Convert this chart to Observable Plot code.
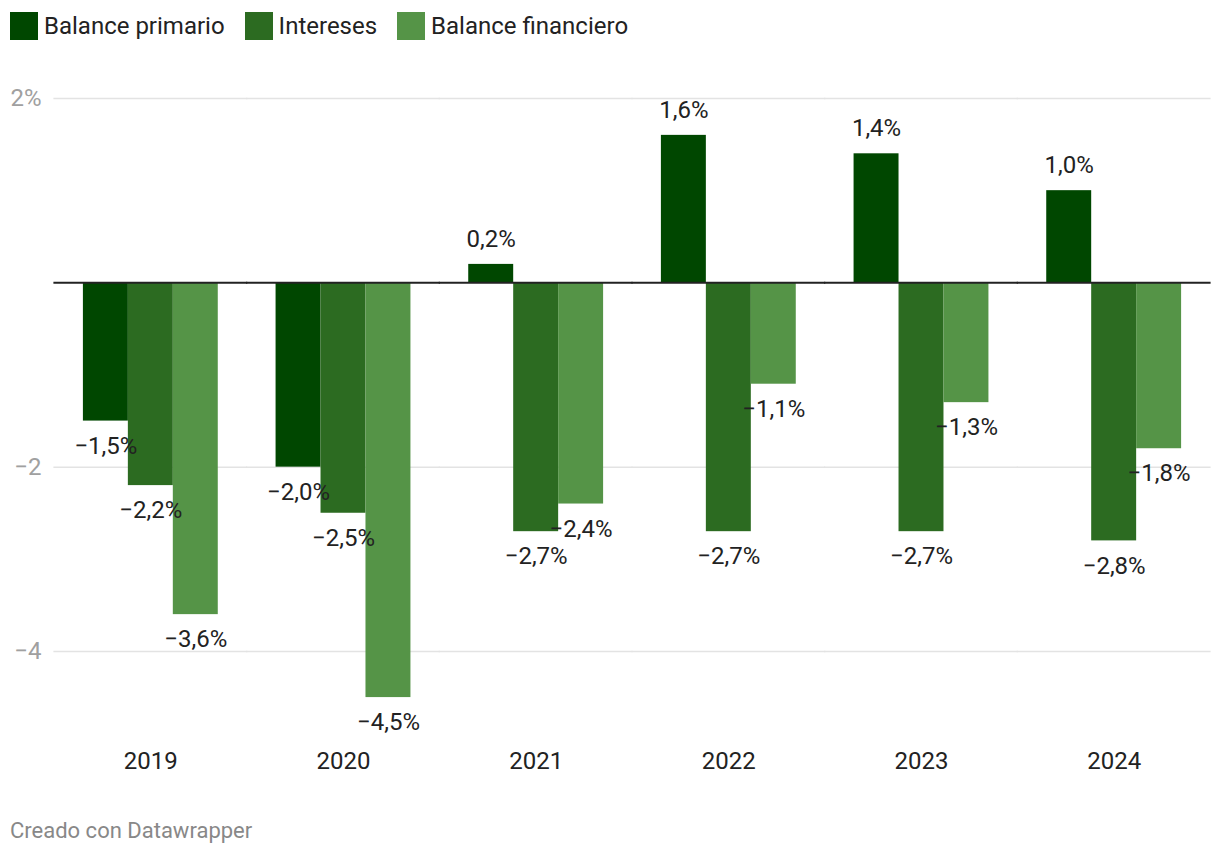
<!DOCTYPE html>
<html><head><meta charset="utf-8">
<script src="https://cdn.jsdelivr.net/npm/d3@7"></script>
<script src="https://cdn.jsdelivr.net/npm/@observablehq/plot@0.6"></script>
<style>
body{margin:0;background:#fff;font-family:Roboto,sans-serif;width:1220px;height:858px;overflow:hidden;position:relative}
#legend{height:52px;display:flex;align-items:flex-start;padding-left:10px;box-sizing:border-box}
.item{display:flex;align-items:center;font-size:24px;color:#222;margin-right:20px;margin-top:12px}
.sw{width:28px;height:28px;margin-right:6px}
#chart svg{display:block}
#footer{position:absolute;left:10px;top:818px;font-size:22px;color:#888}
</style></head><body>
<div id="legend"></div><div id="chart"></div><div id="footer">Creado con Datawrapper</div>
<script>
const years = ["2019","2020","2021","2022","2023","2024"];
const series = ["Balance primario","Intereses","Balance financiero"];
const colors = ["#004700","#2c6b21","#559447"];
const balancePrimario = [-1.5,-2.0,0.2,1.6,1.4,1.0];
const intereses = [-2.2,-2.5,-2.7,-2.7,-2.7,-2.8];
const balanceFinanciero = [-3.6,-4.5,-2.4,-1.1,-1.3,-1.8];
const yTicks = [2,0,-2,-4];

const seriesValues = [balancePrimario, intereses, balanceFinanciero];
const rows = [];
years.forEach((y,i)=>series.forEach((s,j)=>rows.push({year:y, serie:s, value:seriesValues[j][i]})));

const fmt = v => (v<0?"\u2212":"") + Math.abs(v).toFixed(1).replace(".",",") + "%";
const tickFmt = d => d===2 ? "2%" : d===0 ? "" : (d<0?"\u2212":"")+Math.abs(d);

const legend = document.getElementById("legend");
series.forEach((s,j)=>{
  const it=document.createElement("div");it.className="item";
  const sw=document.createElement("div");sw.className="sw";sw.style.background=colors[j];
  const t=document.createElement("span");t.textContent=s;
  it.append(sw,t);legend.append(it);
});

const W=1220, ML=54, MR=10;
const step = (W-ML-MR)/years.length;
const gapHalf = step*0.15;
const ext = gapHalf + 0.6;

const chart = Plot.plot({
  width:W, height:740, marginTop:46, marginBottom:141, marginLeft:ML, marginRight:MR,
  style:{fontFamily:"Roboto", fontSize:"24px", background:"#fff"},
  fx:{domain:years, paddingInner:0.3, paddingOuter:0.15, round:false, label:null},
  x:{domain:series, padding:0, round:false, axis:null},
  y:{domain:[-4,2], axis:null},
  color:{domain:series, range:colors},
  marks:[
    Plot.ruleY(yTicks.filter(d=>d!==0), {stroke:"#e3e3e3", strokeWidth:1.5, insetLeft:-ext, insetRight:-ext}),
    Plot.barY(rows, {fx:"year", x:"serie", y:"value", fill:"serie", inset:0}),
    Plot.ruleY([0], {stroke:"#222", strokeWidth:2, insetLeft:-ext, insetRight:-ext}),
    Plot.text(rows.filter(d=>d.value<0), {fx:"year", x:"serie", y:"value", text:d=>fmt(d.value), dy:25, fill:"#222", fontSize:24}),
    Plot.text(rows.filter(d=>d.value>=0), {fx:"year", x:"serie", y:"value", text:d=>fmt(d.value), dy:-25, fill:"#222", fontSize:24}),
    Plot.axisY(yTicks, {anchor:"left", tickSize:0, tickPadding:13+gapHalf, tickFormat:tickFmt, fill:"#a0a0a0", fontSize:24, label:null}),
    Plot.axisFx({anchor:"bottom", tickSize:0, tickPadding:100, label:null, fontSize:24, fill:"#222"})
  ]
});
document.getElementById("chart").append(chart);
</script>
</body></html>
